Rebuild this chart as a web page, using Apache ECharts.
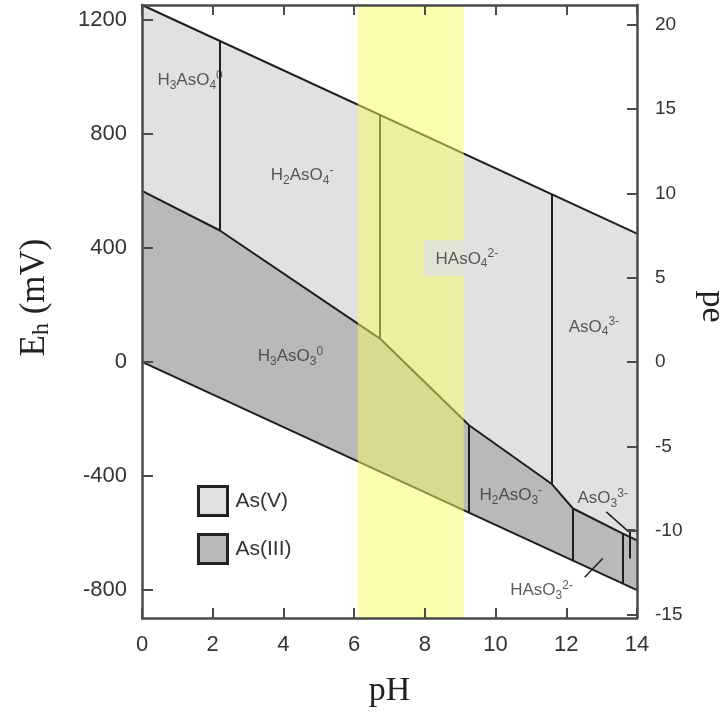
<!DOCTYPE html>
<html>
<head>
<meta charset="utf-8">
<title>Eh-pH arsenic</title>
<script src="https://cdn.jsdelivr.net/npm/echarts@6/dist/echarts.min.js"></script>
<style>
  html, body { margin: 0; padding: 0; background: #fff; }
  #chart { width: 723px; height: 715px; }
</style>
</head>
<body>
<div id="chart"></div>
<script>
// axis ranges (mV); pe = Eh / 59.16
const ehMin = -898
const ehMax = 1252
const mvPerPe = 59.16
const phTicks = [0, 2, 4, 6, 8, 10, 12, 14]
const ehTicks = [-800, -400, 0, 400, 800, 1200]
const peTicks = [-15, -10, -5, 0, 5, 10, 15, 20]

// water stability limits [pH, Eh]
const upperWater = [[0, 1252], [14, 450]]
const lowerWater = [[0, 0], [14, -800]]
// As(V) / As(III) boundary
const redoxLine = [[0, 600], [2.19, 462], [6.73, 82], [9.25, -222], [11.58, -427], [12.19, -514], [13.6, -602], [14, -626]]

// vertical species boundaries: [pH, top, bottom]
const dividers = [
  [2.19, 1127, 462],
  [6.73, 866, 82],
  [11.58, 589, -427],
  [9.25, -222, -528],
  [12.19, -514, -696],
  [13.6, -602, -777],
  [13.8, -587, -689]
]
// short extra strokes and label leaders
const extraStrokes = [
  [[13.7, -587], [13.95, -587]],
  [[13.13, -526], [13.77, -596]],
  [[12.52, -755], [13.03, -689]]
]

// neutral pH band
const bandPh = [6.1, 9.1]

// species labels: [text, pH, Eh]
const speciesLabels = [
  ['H{sub|3}AsO{sub|4}{sup|0}', 1.36, 988],
  ['H{sub|2}AsO{sub|4}{sup|-}', 4.53, 655],
  ['HAsO{sub|4}{sup|2-}', 9.16, 364],
  ['AsO{sub|4}{sup|3-}', 12.78, 123],
  ['H{sub|3}AsO{sub|3}{sup|0}', 4.2, 20],
  ['H{sub|2}AsO{sub|3}{sup|-}', 10.43, -468],
  ['AsO{sub|3}{sup|3-}', 13.03, -479],
  ['HAsO{sub|3}{sup|2-}', 11.3, -801]
]

const lineColor = '#1e1e1e'
const frameColor = '#4a4a4a'

function polygon(name, pts, color, z) {
  return {
    name: name,
    type: 'custom',
    z: z,
    silent: true,
    itemStyle: { color: color },
    data: pts,
    renderItem: function (params, api) {
      if (params.dataIndex > 0) return null
      return {
        type: 'polygon',
        shape: { points: pts.map(p => api.coord(p)) },
        style: { fill: color }
      }
    }
  }
}

const asV = upperWater.concat(redoxLine.slice().reverse())
const asIII = redoxLine.concat(lowerWater.slice().reverse())
const band = [[bandPh[0], ehMax], [bandPh[1], ehMax], [bandPh[1], ehMin], [bandPh[0], ehMin]]

const chemRich = {
  sub: { fontSize: 12, lineHeight: 12, verticalAlign: 'bottom', fontFamily: 'Liberation Sans', color: '#333' },
  sup: { fontSize: 12, lineHeight: 12, verticalAlign: 'top', fontFamily: 'Liberation Sans', color: '#333' }
}

const myChart = echarts.init(document.getElementById('chart'))

const frameLine = { show: true, onZero: false, lineStyle: { color: frameColor, width: 2.5 } }

const option = {
  animation: false,
  backgroundColor: '#fff',
  grid: { left: 142, right: 86, top: 5, bottom: 97, containLabel: false, outerBoundsMode: 'none' },
  legend: {
    data: ['As(V)', 'As(III)'],
    orient: 'vertical',
    left: 192,
    top: 480,
    itemWidth: 29,
    itemHeight: 29,
    itemGap: 16,
    icon: 'rect',
    itemStyle: { borderColor: '#222', borderWidth: 3 },
    textStyle: { fontSize: 21, color: '#333', fontFamily: 'Liberation Sans', padding: [0, 0, 0, 3] },
    selectedMode: false
  },
  xAxis: [
    {
      type: 'value', position: 'bottom', min: 0, max: 14, interval: 2, z: 10,
      name: 'pH', nameLocation: 'middle', nameGap: 56,
      nameTextStyle: { fontFamily: 'Liberation Serif', fontSize: 34, color: '#222' },
      axisLine: frameLine,
      axisTick: { inside: true, length: 10, lineStyle: { color: frameColor, width: 2 } },
      axisLabel: { fontSize: 22, color: '#333', margin: 16, fontFamily: 'Liberation Sans',
        formatter: v => phTicks.includes(v) ? String(v) : '' },
      splitLine: { show: false }
    },
    {
      type: 'value', position: 'top', min: 0, max: 14, interval: 2, z: 10,
      axisLine: frameLine,
      axisTick: { inside: true, length: 10, lineStyle: { color: frameColor, width: 2 } },
      axisLabel: { show: false },
      splitLine: { show: false }
    }
  ],
  yAxis: [
    {
      type: 'value', position: 'left', min: ehMin, max: ehMax, z: 10,
      name: '{e|E}{h|h}{e| (mV)}', nameLocation: 'middle', nameGap: 88,
      nameTextStyle: {
        fontFamily: 'Liberation Serif', color: '#222', padding: [0, 0, 0, 28],
        rich: {
          e: { fontSize: 35, lineHeight: 38, fontFamily: 'Liberation Serif', color: '#222' },
          h: { fontSize: 24, lineHeight: 24, verticalAlign: 'bottom', fontFamily: 'Liberation Serif', color: '#222' }
        }
      },
      axisLine: frameLine,
      axisTick: { inside: true, length: 11, customValues: ehTicks, lineStyle: { color: frameColor, width: 2 } },
      axisLabel: { customValues: ehTicks, fontSize: 22, color: '#333', margin: 15, fontFamily: 'Liberation Sans',
        formatter: v => String(v) },
      splitLine: { show: false }
    },
    {
      type: 'value', position: 'right', min: ehMin / mvPerPe, max: ehMax / mvPerPe, z: 10,
      name: 'pe', nameLocation: 'middle', nameGap: 58, nameRotate: -90,
      nameTextStyle: { fontFamily: 'Liberation Serif', fontSize: 34, color: '#222', padding: [0, 10, 0, 0] },
      axisLine: frameLine,
      axisTick: { inside: true, length: 10, customValues: peTicks, lineStyle: { color: frameColor, width: 2 } },
      axisLabel: { customValues: peTicks, fontSize: 19, color: '#333', margin: 18, fontFamily: 'Liberation Sans',
        formatter: v => String(v) },
      splitLine: { show: false }
    }
  ],
  series: [
    polygon('As(V)', asV, '#e1e1e3', 1),
    polygon('As(III)', asIII, '#b9b9bc', 1),
    {
      type: 'line', data: upperWater, symbol: 'none', z: 3, silent: true,
      lineStyle: { color: lineColor, width: 2 }
    },
    {
      type: 'line', data: lowerWater, symbol: 'none', z: 3, silent: true,
      lineStyle: { color: lineColor, width: 2 }
    },
    {
      type: 'line', data: redoxLine, symbol: 'none', z: 3, silent: true,
      lineStyle: { color: lineColor, width: 2 }
    },
    {
      type: 'lines', coordinateSystem: 'cartesian2d', z: 3, silent: true,
      lineStyle: { color: lineColor, width: 2, opacity: 1 },
      data: dividers.map(d => ({ coords: [[d[0], d[1]], [d[0], d[2]]] }))
        .concat(extraStrokes.map(s => ({ coords: s, lineStyle: { width: 1.5 } })))
    },
    polygon('band', band, 'rgba(252,252,95,0.5)', 4),
    {
      type: 'scatter', z: 6, silent: true, symbolSize: 0,
      data: speciesLabels.map(s => ({
        value: [s[1], s[2]],
        label: s[0].startsWith('HAsO{sub|4}') ? {
          backgroundColor: '#e1e1e3', padding: [8, 10, 6, 12]
        } : {}
      })),
      label: {
        show: true, position: 'inside',
        fontSize: 17, lineHeight: 22, color: '#333', fontFamily: 'Liberation Sans',
        formatter: p => speciesLabels[p.dataIndex][0],
        rich: chemRich
      }
    }
  ]
}

myChart.setOption(option)
</script>
</body>
</html>
